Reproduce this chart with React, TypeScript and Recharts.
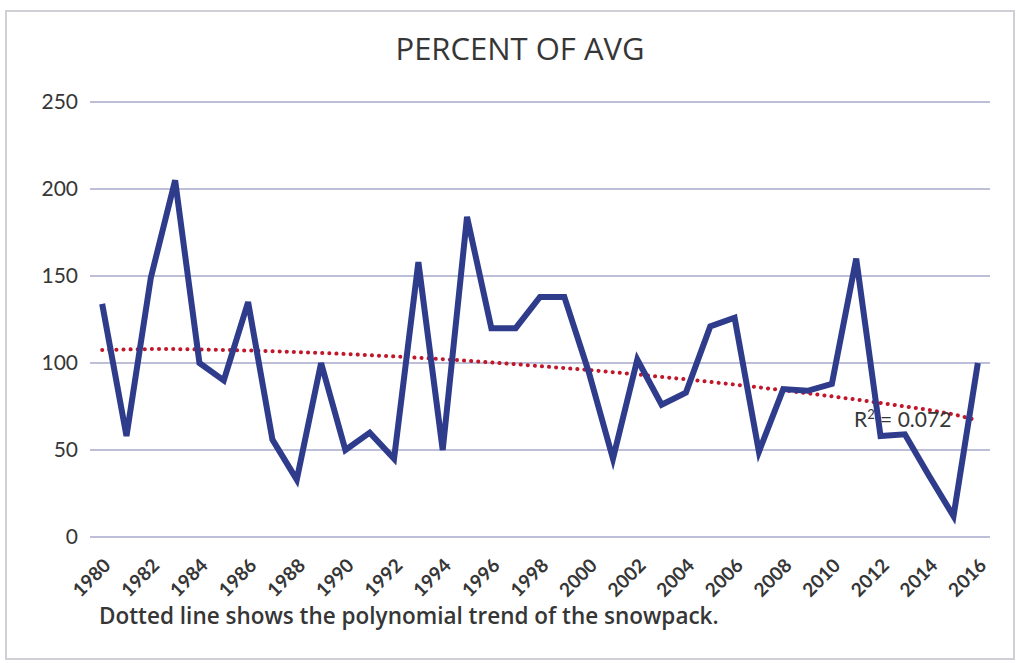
import { LineChart, Line, XAxis, YAxis, CartesianGrid } from 'recharts'

const YEARS = [
  1980, 1981, 1982, 1983, 1984, 1985, 1986, 1987, 1988, 1989,
  1990, 1991, 1992, 1993, 1994, 1995, 1996, 1997, 1998, 1999,
  2000, 2001, 2002, 2003, 2004, 2005, 2006, 2007, 2008, 2009,
  2010, 2011, 2012, 2013, 2014, 2015, 2016,
]
const PERCENT = [
  134, 58, 149, 205, 100, 90, 135, 56, 33, 100,
  50, 60, 45, 158, 50, 184, 120, 120, 138, 138,
  95, 45, 102, 76, 83, 121, 126, 49, 85, 84,
  88, 160, 58, 59, 35, 12, 100,
]
// trend
const TREND = [
  107.5, 107.8, 108, 108, 107.8, 107.5, 107.2, 106.8, 106.3, 105.8,
  105.2, 104.5, 103.8, 103, 102.2, 101.3, 100.3, 99.3, 98.2, 97.1,
  96, 94.7, 93.4, 92, 90.6, 89.1, 87.6, 86, 84.3, 82.6,
  80.8, 79, 77, 75, 73, 70.5, 67,
]
const X_TICKS = [1980, 1982, 1984, 1986, 1988, 1990, 1992, 1994, 1996, 1998, 2000, 2002, 2004, 2006, 2008, 2010, 2012, 2014, 2016]
const Y_TICKS = [0, 50, 100, 150, 200, 250]

const data = YEARS.map((year, i) => ({ year, pct: PERCENT[i], trend: TREND[i] }))

const FONT = 'Lato, "Open Sans", sans-serif'
const FONT2 = '"Open Sans", Lato, sans-serif'
const TEXT = '#363636'

function YearTick({ x, y, payload }: any) {
  return (
    <g transform={`translate(${x + 5},${y + 17})`}>
      <text textAnchor="end" transform="rotate(-45)" fontSize={19} fontWeight={700} fill={TEXT} fontFamily={FONT} dy="0.35em">
        {payload.value}
      </text>
    </g>
  )
}

export default function App() {
  return (
    <div style={{ position: 'absolute', left: 0, top: 0, width: 1018, height: 663, background: '#fff', fontFamily: FONT }}>
      <div style={{ position: 'absolute', left: 5, top: 10, width: 1006, height: 646, border: '2px solid #cfcfd6' }} />
      <div style={{ position: 'absolute', left: 0, width: 1040, top: 27, textAlign: 'center', fontSize: 31, color: TEXT, fontFamily: FONT2 }}>
        PERCENT OF AVG
      </div>
      <div style={{ position: 'absolute', left: 0, top: 0 }}>
        <LineChart width={1018} height={663} data={data} margin={{ top: 102, right: 28, left: 30, bottom: 66 }}>
          <CartesianGrid vertical={false} stroke="#a7aacb" strokeWidth={1.5} />
          <XAxis
            dataKey="year"
            type="number"
            domain={[1979.5, 2016.5]}
            ticks={X_TICKS}
            axisLine={false}
            tickLine={false}
            tick={<YearTick />}
            height={60}
            interval={0}
          />
          <YAxis
            domain={[0, 250]}
            ticks={Y_TICKS}
            axisLine={false}
            tickLine={false}
            tickSize={0}
            tickMargin={12}
            width={60}
            tick={{ fontSize: 21, fill: TEXT, fontFamily: FONT }}
          />
          <Line
            dataKey="trend"
            stroke="#c0172b"
            strokeWidth={4}
            strokeDasharray="0.1 7"
            strokeLinecap="round"
            dot={false}
            isAnimationActive={false}
          />
          <Line
            dataKey="pct"
            stroke="#2f3c8c"
            strokeWidth={6}
            strokeLinejoin="miter"
            dot={false}
            isAnimationActive={false}
          />
        </LineChart>
      </div>
      <div style={{ position: 'absolute', left: 854, top: 406, fontSize: 21, color: TEXT }}>
        R<sup style={{ fontSize: 13 }}>2</sup> = 0.072
      </div>
      <div style={{ position: 'absolute', left: 99, top: 600, fontSize: 22.5, fontWeight: 600, color: TEXT, fontFamily: FONT2 }}>
        Dotted line shows the polynomial trend of the snowpack.
      </div>
    </div>
  )
}
